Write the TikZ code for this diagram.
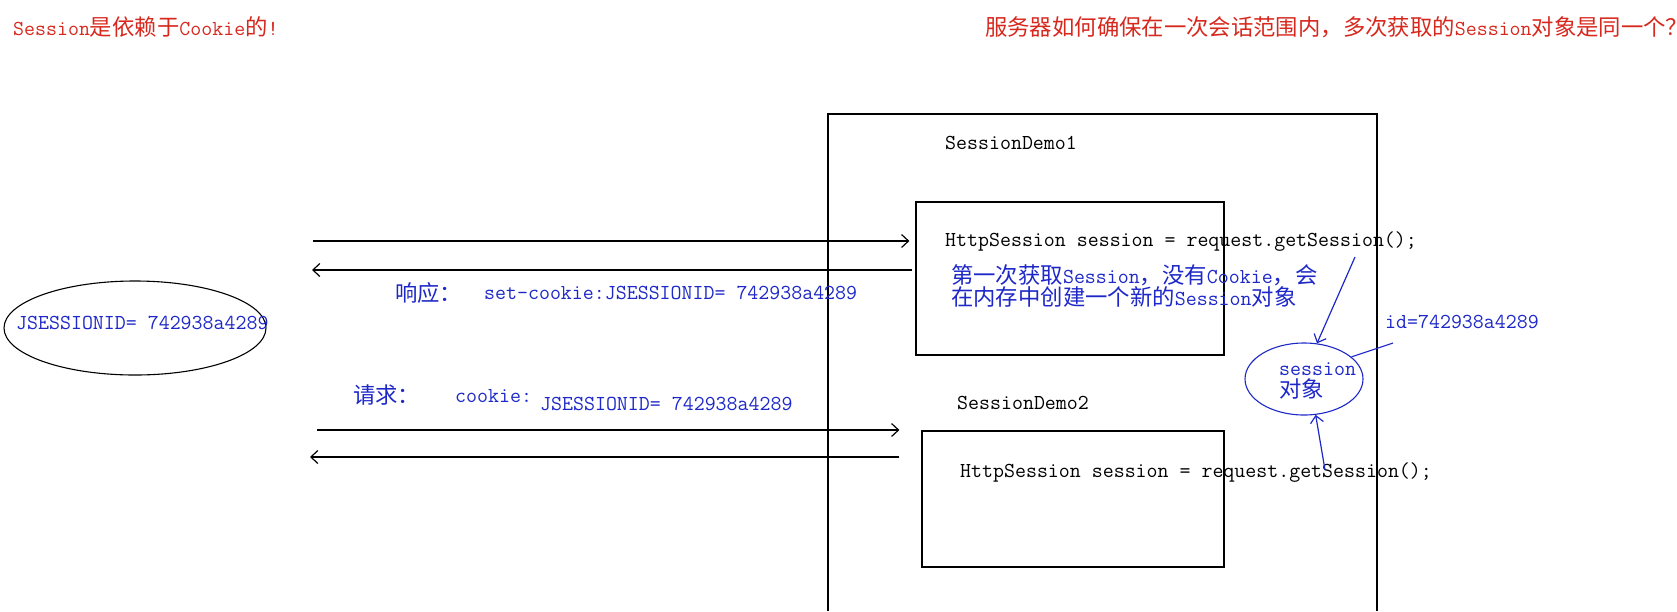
\documentclass[tikz,border=0pt]{standalone}
\usepackage{fontspec}
\usetikzlibrary{arrows.meta,shapes.geometric}
\newfontfamily\cjk[Scale=1.05]{Noto Sans CJK SC}
\newcommand{\zh}[1]{{\cjk #1}}
\definecolor{titlered}{RGB}{215,40,30}
\definecolor{penblue}{RGB}{30,40,200}

\begin{document}
\begin{tikzpicture}[x=1pt, y=-1pt,
  txt/.style={font=\ttfamily\fontsize{21.3}{24}\selectfont, inner sep=0pt, anchor=west},
  bluetxt/.style={txt, text=penblue},
  box/.style={draw, line width=1.2pt, inner sep=0pt},
  msg/.style={line width=1.2pt, -{Straight Barb[length=7pt,width=13pt]}},
  pen/.style={draw=penblue, line width=1.1pt}]
\useasboundingbox (0,0) rectangle (1677,611);
\fill[white] (0,0) rectangle (1677,611);

% titles
\node[txt, text=titlered] (t1) at (13,27) {Session\zh{是依赖于}Cookie\zh{的}!};
\node[txt, text=titlered] (t2) at (985,27) {\zh{服务器如何确保在一次会话范围内，多次获取的}Session\zh{对象是同一个？}};

% browser side
\node[draw, ellipse, line width=1.1pt, minimum width=262pt, minimum height=94pt, inner sep=0pt] (jar) at (135,328) {};
\node[bluetxt] (jarid) at (16,323) {JSESSIONID= 742938a4289};

% server
\draw[line width=1.2pt] (828,611) |- (1377,114) -- (1377,611);
\node[txt] (demo1) at (945,143) {SessionDemo1};
\node[box, minimum width=308pt, minimum height=153pt] (box1) at (1070,278.5) {};
\node[txt] (code1) at (945,242) {HttpSession session = request.getSession();};
\node[bluetxt, align=left, font=\ttfamily\fontsize{21.3}{22}\selectfont] (new) at (951,286)
  {\zh{第一次获取}Session\zh{，没有}Cookie\zh{，会}\\\zh{在内存中创建一个新的}Session\zh{对象}};

\node[txt] (demo2) at (957,403) {SessionDemo2};
\node[box, minimum width=302pt, minimum height=136pt] (box2) at (1073,499) {};
\node[txt] (code2) at (960,473) {HttpSession session = request.getSession();};

% session object
\node[draw=penblue, ellipse, line width=1.1pt, minimum width=118pt, minimum height=72pt, inner sep=0pt] (sess) at (1304,379) {};
\node[bluetxt, align=left, font=\ttfamily\fontsize{21.3}{22}\selectfont] (sesstxt) at (1279,381) {session\\\zh{对象}};
\node[bluetxt] (sessid) at (1385,322) {id=742938a4289};

% messages
\coordinate (cl1) at (313,241);
\coordinate (cl2) at (312,270);
\coordinate (cl3) at (317,430);
\coordinate (cl4) at (310,457);
\draw[msg, shorten >=6pt] (cl1) -- (cl1 -| box1.west);
\draw[msg, shorten <=3pt] (cl2 -| box1.west) -- (cl2);
\draw[msg, shorten >=22pt] (cl3) -- (cl3 -| box2.west);
\draw[msg, shorten <=22pt] (cl4 -| box2.west) -- (cl4);

\node[bluetxt] (resp) at (395,293) {\zh{响应：}};
\node[bluetxt] (setck) at (484,293) {set-cookie:JSESSIONID= 742938a4289};
\node[bluetxt] (req) at (353,395) {\zh{请求：}};
\node[bluetxt] (ck) at (455,396) {cookie:};
\node[bluetxt] (ckid) at (540,404) {JSESSIONID= 742938a4289};

% links to the session object
\coordinate (g1) at (1355,257);
\coordinate (g2) at (1325,470);
\coordinate (idend) at (1393,343);
\draw[pen, msg, draw=penblue] (g1) -- (sess.70);
\draw[pen, msg, draw=penblue] (g2) -- (sess.-72);
\draw[pen] (idend) -- (sess.25);
\end{tikzpicture}
\end{document}
